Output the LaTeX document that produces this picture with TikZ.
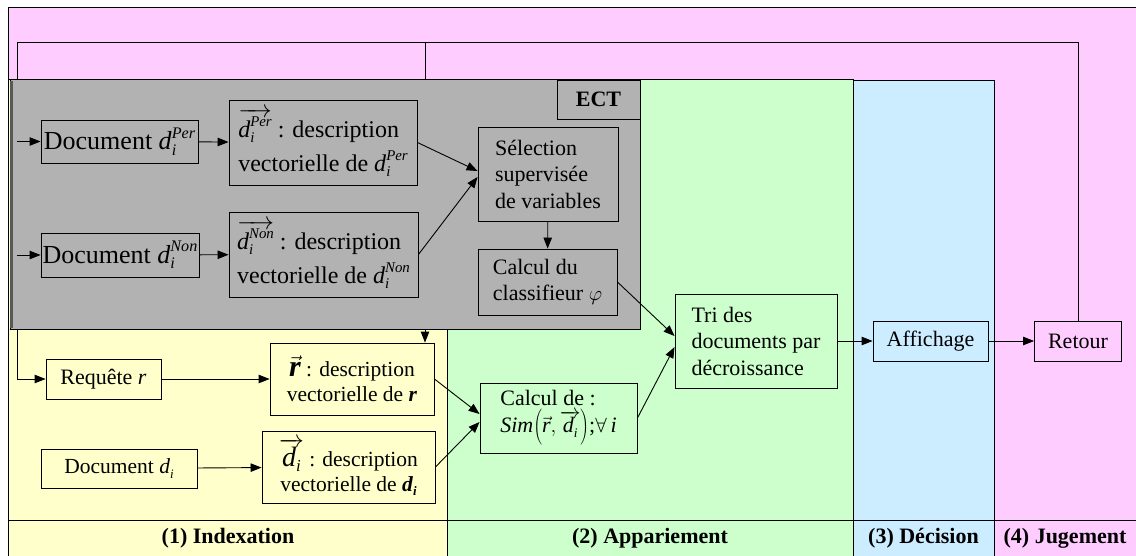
\documentclass[tikz,border=0pt]{standalone}
\usepackage{fontspec}
\setmainfont{Liberation Serif}
\usetikzlibrary{arrows.meta}
\definecolor{pinkbg}{RGB}{255,204,255}
\definecolor{yellowbg}{RGB}{255,255,204}
\definecolor{greenbg}{RGB}{204,255,204}
\definecolor{bluebg}{RGB}{204,236,255}
\definecolor{graybg}{RGB}{178,178,178}
\newcommand\supsub[2]{\rlap{\raisebox{-0.45ex}{\scalebox{0.62}{\itshape #2}}}\raisebox{0.95ex}{\scalebox{0.62}{\itshape #1}}}
\newcommand\subi{\raisebox{-0.45ex}{\scalebox{0.6}{\itshape i}}}
\begin{document}
\begin{tikzpicture}[x=1pt,y=-1pt,
  box/.style={draw, line width=0.9pt, inner sep=0pt, align=left},
  tA/.style={font=\fontsize{22}{26.5}\selectfont},
  tB/.style={font=\fontsize{24}{30}\selectfont},
  tD/.style={font=\fontsize{26}{30}\selectfont},
  tC/.style={font=\fontsize{21.5}{25}\selectfont},
  lab/.style={font=\fontsize{22}{26}\selectfont\bfseries},
  ln/.style={line width=0.9pt},
  arr/.style={line width=0.9pt, -{Triangle[length=11pt,width=8.5pt]}}]
\useasboundingbox (0,0) rectangle (1136,556);
\fill[white] (0,0) rectangle (1136,556);
% backgrounds
\draw[fill=pinkbg, line width=1pt] (8.5,8) rectangle (1140,560);
\draw[fill=yellowbg, line width=1pt] (8.5,80) rectangle (447,560);
\draw[fill=greenbg, line width=1pt] (447,80) rectangle (853,560);
\draw[fill=bluebg, line width=1pt] (853,81) rectangle (994,560);
\draw[line width=1pt] (8.5,520) -- (1140,520);
\node[lab] (l1) at (228,538) {(1) Indexation};
\node[lab] (l2) at (650,538) {(2) Appariement};
\node[lab] (l3) at (923.5,538) {(3) Décision};
\node[lab] (l4) at (1065,538) {(4) Jugement};
% feedback loop coordinates
\coordinate (TR) at (1078,42);
\coordinate (TL) at (17,42);
\coordinate (TM) at (425,42);
% nodes outside gray box
\node[box, fill=yellowbg, tA, minimum width=115, minimum height=40] (req) at (103.5,379) {Requête \textit{r}};
\node[box, fill=yellowbg, tC, align=center, minimum width=164, minimum height=72] (rdesc) at (352,379)
  {{\fontsize{30}{30}\selectfont$\vec{\hbox{\bfseries\itshape r}}$}\ : description\\vectorielle de \textbf{\textit{r}}};
\node[box, fill=yellowbg, tC, minimum width=156, minimum height=39] (docdi) at (119,468.5) {Document \textit{d}\subi};
\node[box, fill=yellowbg, tC, align=center, minimum width=173, minimum height=72] (didesc) at (348.5,467)
  {{\fontsize{28}{28}\selectfont$\overrightarrow{\hbox{\itshape d\subi}}$}\ : description\\vectorielle de \textbf{\textit{d}}\raisebox{-0.45ex}{\scalebox{0.6}{\bfseries\itshape i}}};
\node[box, fill=greenbg, tA, minimum width=157, minimum height=70] (sim) at (558.5,418)
  {Calcul de :\\\textit{Sim}$\left(\vec{\hbox{\itshape r}},\overrightarrow{\hbox{\itshape d\subi}}\right)$;$\forall$\,\textit{i}};
\node[box, fill=greenbg, tA, minimum width=162, minimum height=94] (tri) at (756,341) {Tri des\\documents par\\décroissance};
\node[box, fill=bluebg, tA, minimum width=115, minimum height=40] (aff) at (930.5,341) {Affichage};
\node[box, fill=pinkbg, tA, minimum width=87, minimum height=40] (ret) at (1078,341) {Retour};
% loop lines (partly hidden by gray box)
\draw[arr] (ret.north) |- (TL) |- (req.west);
\draw[arr] (TM) -- (TM |- rdesc.north);
% gray box ECT
\draw[fill=graybg, line width=1pt] (10,80) rectangle (640,329);
\draw[line width=3pt, black!65] (11.5,81) -- (11.5,328);
\node[box, fill=graybg, lab, minimum width=83, minimum height=39] (ect) at (598.5,99.5) {ECT};
\node[box, fill=graybg, tD, minimum width=157, minimum height=43] (docPer) at (119.5,141.5) {Document \textit{d}\supsub{Per}{i}};
\node[box, fill=graybg, tB, minimum width=188, minimum height=85] (descPer) at (323,142.5)
  {$\overrightarrow{\hbox{\itshape d\supsub{Per}{i}}}$\ : description\\[4pt]vectorielle de \textit{d}\supsub{Per}{i}};
\node[box, fill=graybg, tD, minimum width=158, minimum height=44] (docNon) at (120,255) {Document \textit{d}\supsub{Non}{i}};
\node[box, fill=graybg, tB, minimum width=189, minimum height=85] (descNon) at (323.5,254.5)
  {$\overrightarrow{\hbox{\itshape d\supsub{Non}{i}}}$\ : description\\[4pt]vectorielle de \textit{d}\supsub{Non}{i}};
\node[box, fill=graybg, tA, minimum width=140, minimum height=94] (sel) at (548,174) {Sélection\\supervisée\\de variables};
\node[box, fill=graybg, tA, minimum width=139, minimum height=66] (clf) at (547.5,282) {Calcul du\\classifieur $\varphi$};
% arrows
\draw[arr] (TL |- docPer.west) -- (docPer.west);
\draw[arr] (TL |- docNon.west) -- (docNon.west);
\draw[arr] (docPer) -- (descPer);
\draw[arr] (docNon) -- (descNon);
\draw[arr] (descPer.east) -- ([yshift=3pt]sel.west);
\draw[arr] (descNon.east) -- ([yshift=-3pt]sel.west);
\draw[arr] (sel) -- (clf);
\draw[arr] (clf.east) -- ([yshift=5pt]tri.west);
\draw[arr] (sim.east) -- ([yshift=-6pt]tri.west);
\draw[arr] (req) -- (rdesc);
\draw[arr] (docdi) -- (didesc);
\draw[arr] (rdesc.east) -- ([yshift=4pt]sim.west);
\draw[arr] (didesc.east) -- ([yshift=-4pt]sim.west);
\draw[arr] (tri) -- (aff);
\draw[arr] (aff) -- (ret);
\end{tikzpicture}
\end{document}
